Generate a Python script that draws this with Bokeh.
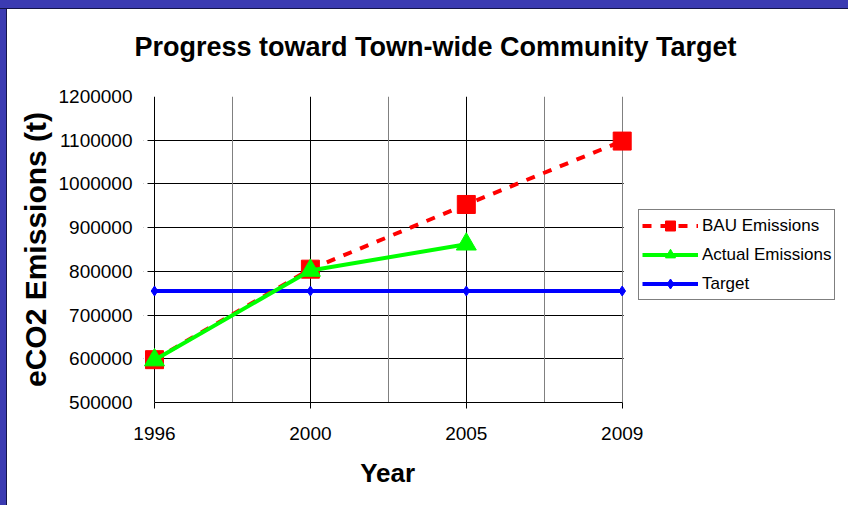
from bokeh.plotting import figure
from bokeh.models import Range1d, FixedTicker, Grid, Legend, LegendItem, Spacer, Title, BoxAnnotation
from bokeh.layouts import column, row
from bokeh.embed import file_html
from bokeh.resources import INLINE

# ---- data ----
years = ["1996", "2000", "2005", "2009"]
bau_years = ["1996", "2000", "2005", "2009"]
bau_values = [598000, 805000, 953000, 1098000]
actual_years = ["1996", "2000", "2005"]
actual_values = [597000, 802000, 862000]
target_years = ["1996", "2000", "2005", "2009"]
target_values = [755000, 755000, 755000, 755000]
y_ticks = [500000, 600000, 700000, 800000, 900000, 1000000, 1100000, 1200000]
y_tick_labels = ["500000", "600000", "700000", "800000", "900000", "1000000", "1100000", "1200000"]

pos = {y: i for i, y in enumerate(years)}
n = len(years)
FONT = "Liberation Sans"

# ---- layout (pixels) ----
W, H = 841, 496
BORDER_L, BORDER_T = 136, 87
FRAME_W, FRAME_H = W - BORDER_L, 306
PX = 155.9                 # pixels per category step
EXT = 11 / PX              # room left of the first category so markers are not cut
TICK = 7 / PX              # y tick length

p = figure(width=W, height=H, output_backend="svg", toolbar_location=None,
           x_range=Range1d(-EXT, -EXT + FRAME_W / PX), y_range=Range1d(y_ticks[0], y_ticks[-1]),
           min_border_left=BORDER_L, min_border_right=0,
           min_border_top=BORDER_T, min_border_bottom=H - BORDER_T - FRAME_H,
           background_fill_color="white", border_fill_color="white")
p.outline_line_color = None

# title (second blank line lifts it above the plot area)
p.title = Title(text="Progress toward Town-wide Community Target\n ", align="left", offset=-9,
                text_font=FONT, text_font_size="27px", text_font_style="bold",
                text_color="black", standoff=10)

# x axis
p.xaxis.ticker = FixedTicker(ticks=list(range(n)))
p.xaxis.major_label_overrides = {i: y for i, y in enumerate(years)}
p.xaxis.bounds = (0, n - 1)
p.xaxis.axis_line_color = "black"
p.xaxis.major_tick_line_color = "black"
p.xaxis.major_tick_in = 0
p.xaxis.major_tick_out = 6
p.xaxis.major_label_standoff = 18
# the frame also holds the legend area, so pad the label to centre it under the plot area
p.xaxis.axis_label = "Year" + "\u00a0" * 30
p.xaxis.axis_label_text_font_size = "26px"
p.xaxis.axis_label_standoff = 15

# y axis (labels only; its line and ticks are drawn at the first category)
p.yaxis.ticker = FixedTicker(ticks=y_ticks)
p.yaxis.major_label_overrides = {v: s for v, s in zip(y_ticks, y_tick_labels)}
p.yaxis.axis_line_color = None
p.yaxis.major_tick_line_color = None
p.yaxis.major_tick_in = 0
p.yaxis.major_tick_out = 0
p.yaxis.major_label_standoff = 11
p.yaxis.axis_label = "eCO2 Emissions (t)"
p.yaxis.axis_label_text_font_size = "30px"
p.yaxis.axis_label_standoff = 4

for ax in (p.xaxis[0], p.yaxis[0]):
    ax.minor_tick_line_color = None
    ax.major_label_text_font = FONT
    ax.major_label_text_font_size = "19px"
    ax.major_label_text_color = "black"
    ax.axis_label_text_font = FONT
    ax.axis_label_text_font_style = "bold"
    ax.axis_label_text_color = "black"

# grids (they span the frame; the parts outside the plot area are masked below)
p.ygrid.ticker = FixedTicker(ticks=y_ticks[:-1])
p.ygrid.grid_line_color = "black"
p.xgrid.ticker = FixedTicker(ticks=list(range(1, n - 1)))
p.xgrid.grid_line_color = "black"
p.add_layout(Grid(dimension=0, ticker=FixedTicker(ticks=[0.5, 1.5, 2.5, n - 1]),
                  grid_line_color="#808080", grid_line_width=1))
p.add_layout(Grid(dimension=1, ticker=FixedTicker(ticks=[y_ticks[-1]]),
                  grid_line_color="#808080", grid_line_width=1))
# value-axis line at the first category
p.add_layout(Grid(dimension=0, ticker=FixedTicker(ticks=[0]),
                  grid_line_color="black", grid_line_width=1))
# masks: leave only the 7px outward ticks on the left and nothing right of the last category
p.add_layout(BoxAnnotation(right=-TICK, fill_color="white", fill_alpha=1, line_color=None,
                           level="underlay"))
p.add_layout(BoxAnnotation(left=(n - 1) + 1.5 / PX, fill_color="white", fill_alpha=1, line_color=None,
                           level="underlay"))

# series
tx = [pos[y] for y in target_years]
bx = [pos[y] for y in bau_years]
ax_ = [pos[y] for y in actual_years]

t_line = p.line(tx, target_values, line_color="#0000ff", line_width=4)
t_pts = p.scatter(tx, target_values, marker="diamond", size=10, fill_color="#0000ff", line_color="#0000ff")

b_line = p.line(bx, bau_values, line_color="#ff0000", line_width=4, line_dash="9 9")
b_pts = p.scatter(bx, bau_values, marker="square", size=18, fill_color="#ff0000", line_color="#ff0000")

a_line = p.line(ax_, actual_values, line_color="#00ff00", line_width=4)
a_pts = p.scatter(ax_, actual_values, marker="triangle", size=20, fill_color="#00ff00", line_color="#00ff00")

legend = Legend(items=[
    LegendItem(label="BAU Emissions", renderers=[b_line, b_pts]),
    LegendItem(label="Actual Emissions", renderers=[a_line, a_pts]),
    LegendItem(label="Target", renderers=[t_line, t_pts]),
], location=(495, 102))
legend.label_text_font = FONT
legend.label_text_font_size = "17px"
legend.label_text_color = "black"
legend.glyph_width = 56
legend.glyph_height = 25
legend.label_height = 25
legend.label_standoff = 4
legend.spacing = 4
legend.padding = 3
legend.margin = 0
legend.border_line_color = "black"
legend.border_line_width = 1
legend.background_fill_color = "white"
legend.background_fill_alpha = 1
p.add_layout(legend)

top = Spacer(width=848, height=9, styles={
    "background": "linear-gradient(to bottom, #3b3bb2 0px, #3b3bb2 8px, #14144a 8px, #14144a 9px)"})
left = Spacer(width=7, height=H, styles={
    "background": "linear-gradient(to right, #3b3bb2 0px, #3b3bb2 6px, #14144a 6px, #14144a 7px)"})
layout = column(top, row(left, p, spacing=0), spacing=0)

open("out.html", "w").write(file_html(layout, INLINE))
